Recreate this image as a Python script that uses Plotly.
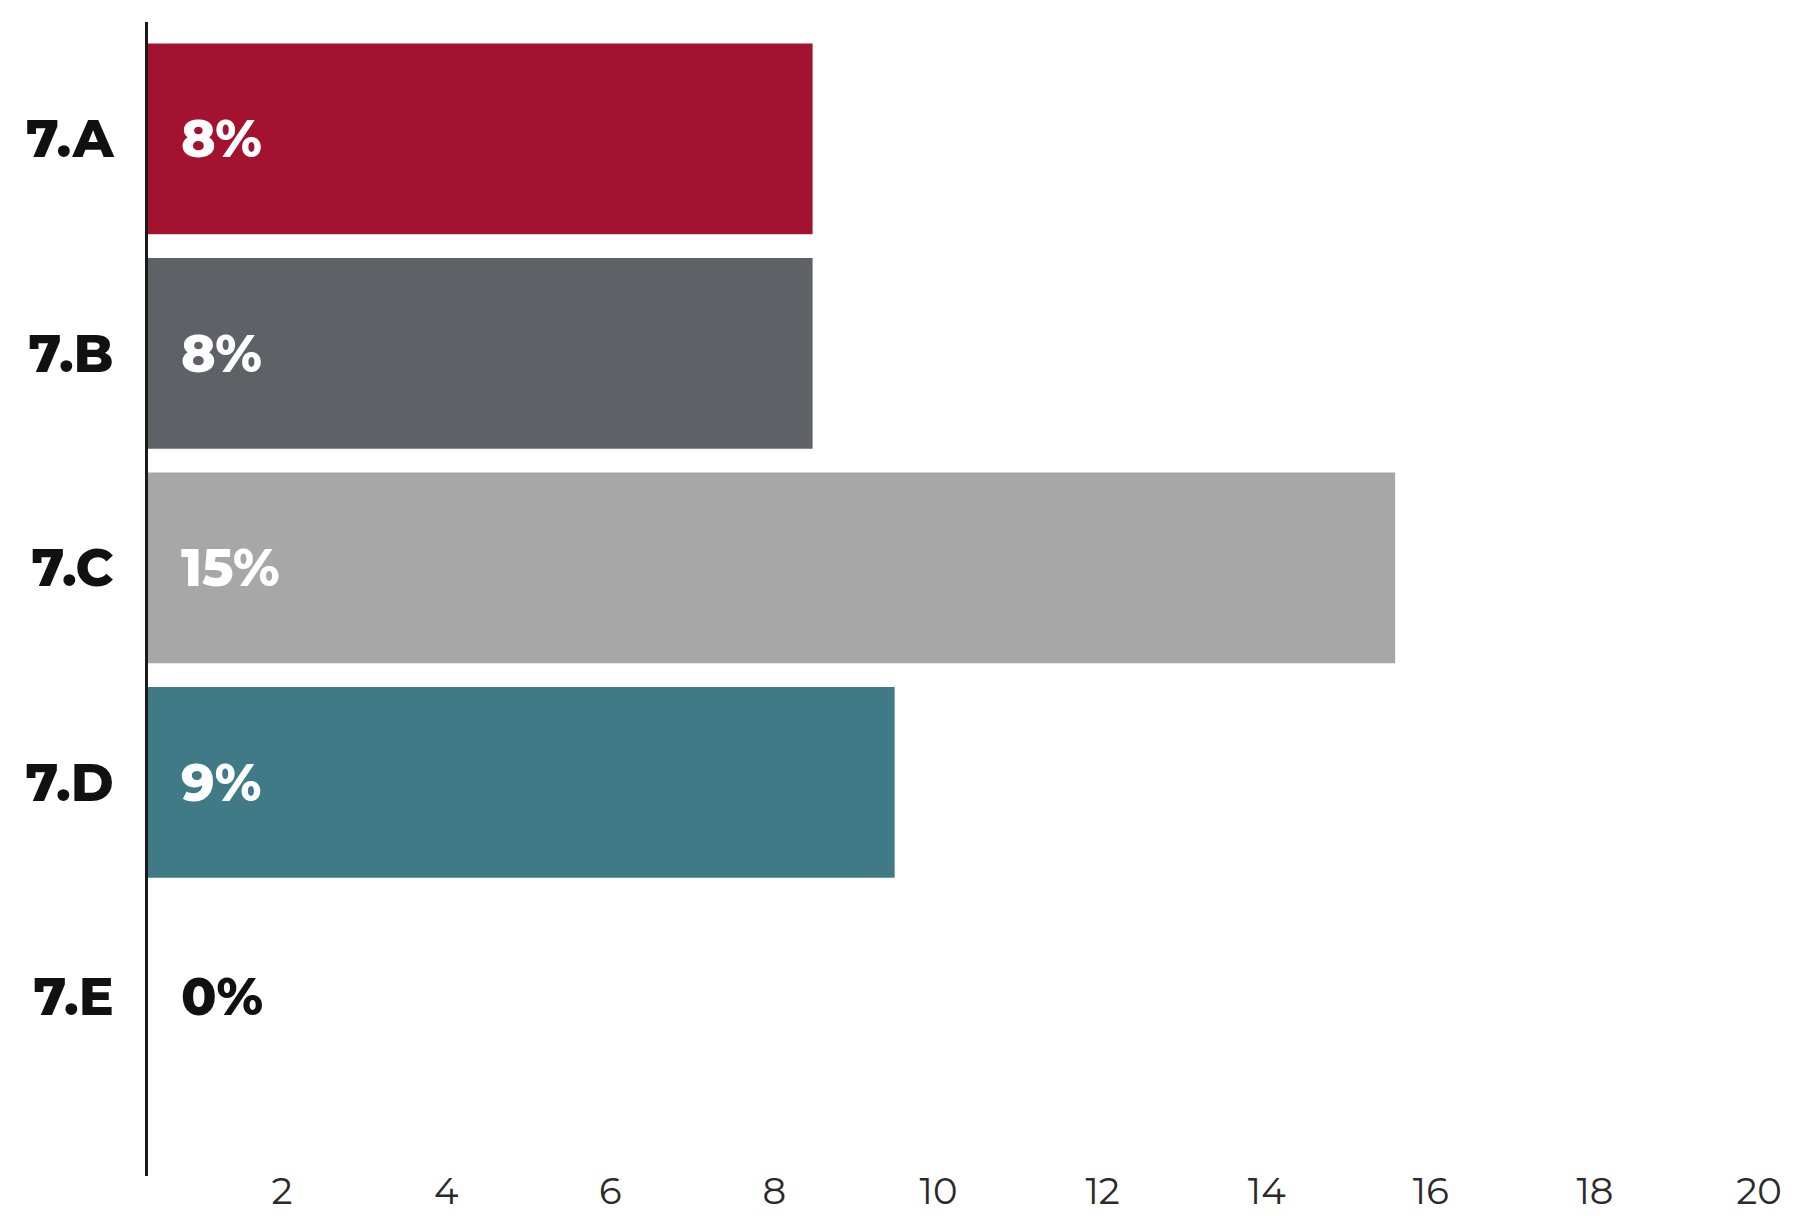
import plotly.graph_objects as go

categories = ["7.A", "7.B", "7.C", "7.D", "7.E"]
values = [8.1, 8.1, 15.2, 9.1, 0]
value_labels = ["8%", "8%", "15%", "9%", "0%"]
bar_colors = ["#A3132F", "#5E6166", "#A7A7A7", "#3F7A86", "#FFFFFF"]
label_colors = ["#FFFFFF", "#FFFFFF", "#FFFFFF", "#FFFFFF", "#111111"]
x_ticks = [2, 4, 6, 8, 10, 12, 14, 16, 18, 20]

FONT = "Montserrat, Inter, Lato, sans-serif"

fig = go.Figure()
fig.add_trace(go.Bar(
    x=values,
    y=categories,
    orientation="h",
    marker=dict(color=bar_colors, line=dict(width=0)),
    hoverinfo="skip",
))

for cat, lab, col in zip(categories, value_labels, label_colors):
    fig.add_annotation(
        x=0, y=cat, xref="x", yref="y",
        text=lab, showarrow=False,
        xanchor="left", yanchor="middle", xshift=31,
        font=dict(family=FONT, size=52, color=col, weight=800),
    )

fig.update_layout(
    width=1788, height=1208,
    margin=dict(l=140, r=7, t=14, b=40),
    paper_bgcolor="white", plot_bgcolor="white",
    bargap=0.11,
    showlegend=False,
    xaxis=dict(
        range=[0, 20],
        tickvals=x_ticks,
        ticktext=[str(t) for t in x_ticks],
        showgrid=False, zeroline=False, showline=False,
        ticks="",
        automargin=False,
        ticklabelshift=-30,
        ticklabelstandoff=-10,
        tickfont=dict(family=FONT, size=37, color="#2A2A2A", weight=400),
    ),
    yaxis=dict(
        categoryorder="array", categoryarray=categories,
        range=[4.835, -0.545],
        showgrid=False, zeroline=False,
        showline=True, linecolor="#1A1A1A", linewidth=3,
        ticks="",
        automargin=False,
        ticklabelstandoff=21,
        tickfont=dict(family=FONT, size=52, color="#111111", weight=800),
    ),
)

fig.write_html("out.html")
